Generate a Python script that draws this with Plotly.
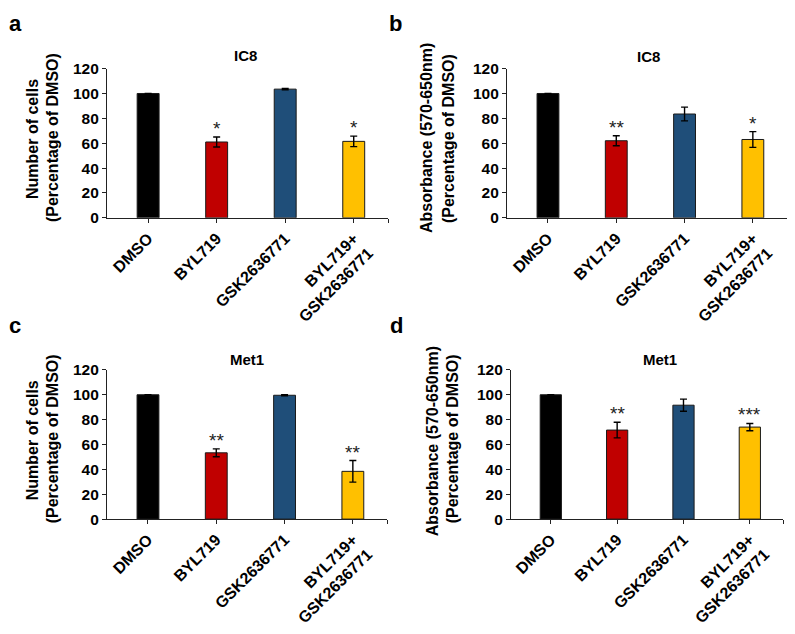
import plotly.graph_objects as go

# treatments on the x axis and their bar colours
treatments = ["DMSO", "BYL719", "GSK2636771", "BYL719+<br>GSK2636771"]
bar_colors = ["#000000", "#C00000", "#1F4E79", "#FFC000"]

# a: IC8 cell number
ic8_cells = [100, 61, 103.5, 61.5]
ic8_cells_err = [0, 4, 0.5, 4.2]
ic8_cells_sig = ["", "*", "", "*"]

# b: IC8 absorbance
ic8_abs = [100, 62, 83.5, 63]
ic8_abs_err = [0, 4, 5.5, 6.3]
ic8_abs_sig = ["", "**", "", "*"]

# c: Met1 cell number
met1_cells = [100, 53.3, 99.6, 38.4]
met1_cells_err = [0, 3.2, 0.5, 8.7]
met1_cells_sig = ["", "**", "", "**"]

# d: Met1 absorbance
met1_abs = [100, 71.6, 91.6, 74]
met1_abs_err = [0, 6.3, 4.9, 2.9]
met1_abs_sig = ["", "**", "", "***"]

# page body has an 8px margin, so the figure is drawn 16px smaller
PAD = 8
W, H = 795 - 2 * PAD, 634 - 2 * PAD
FONT = "Liberation Sans"

# one entry per panel: data, letter, title, y title lines, pixel boxes (window pixels)
# letter_xy gives the left edge of the panel letter
panels = [
    dict(vals=ic8_cells, err=ic8_cells_err, sig=ic8_cells_sig, letter="a", title="IC8",
         ytitle=["Number of cells", "(Percentage of DMSO)"],
         box=(107, 388, 63, 222), title_xy=(245, 49), letter_xy=(8, 15),
         ylab=[(32, 138), (52, 137)]),
    dict(vals=ic8_abs, err=ic8_abs_err, sig=ic8_abs_sig, letter="b", title="IC8",
         ytitle=["Absorbance (570-650nm)", "(Percentage of DMSO)"],
         box=(507, 787, 63, 222), title_xy=(648, 50), letter_xy=(388, 15),
         ylab=[(426, 137), (448, 137)]),
    dict(vals=met1_cells, err=met1_cells_err, sig=met1_cells_sig, letter="c", title="Met1",
         ytitle=["Number of cells", "(Percentage of DMSO)"],
         box=(107, 387, 384, 543), title_xy=(247, 373), letter_xy=(8, 337),
         ylab=[(32, 459), (52, 458)]),
    dict(vals=met1_abs, err=met1_abs_err, sig=met1_abs_sig, letter="d", title="Met1",
         ytitle=["Absorbance (570-650nm)", "(Percentage of DMSO)"],
         box=(511, 783, 384, 543), title_xy=(660, 373), letter_xy=(389, 337),
         ylab=[(432, 460), (452, 458)]),
]

def px_x(x):
    return (x - PAD) / W

def px_y(y):
    return 1 - (y - PAD) / H

fig = go.Figure()
annotations = []
layout = {}

for i, p in enumerate(panels):
    n = "" if i == 0 else str(i + 1)
    xa, ya = "x" + n, "y" + n
    x0, x1, y0, y1 = p["box"]

    fig.add_trace(go.Bar(
        x=[0, 1, 2, 3], y=p["vals"], width=0.32,
        marker=dict(color=bar_colors, line=dict(color="#1a1a1a", width=1)),
        error_y=dict(type="data", array=p["err"], visible=True,
                     color="black", thickness=1.4, width=3.5),
        xaxis=xa, yaxis=ya, showlegend=False,
    ))

    layout["xaxis" + n] = dict(
        domain=[px_x(x0), px_x(x1)], anchor=ya, range=[-0.6, 3.5],
        tickmode="array", tickvals=[0, 1, 2, 3, 3.5], ticktext=treatments + [""],
        tickangle=-45, ticks="outside", ticklen=4, tickcolor="#222",
        showline=True, linecolor="#222", linewidth=1.2, showgrid=False, zeroline=False,
        tickfont=dict(family=FONT, size=16, color="black", weight="bold"),
    )
    layout["yaxis" + n] = dict(
        domain=[px_y(y1), px_y(y0)], anchor=xa, range=[0, 120], dtick=20,
        ticks="outside", ticklen=4, tickcolor="#222",
        showline=True, linecolor="#222", linewidth=1.2, showgrid=False, zeroline=False,
        tickfont=dict(family=FONT, size=15.5, color="black", weight="bold"),
    )

    # significance stars above the error bars
    for k in range(4):
        if p["sig"][k]:
            annotations.append(dict(
                x=k, y=p["vals"][k] + p["err"][k], xref=xa, yref=ya,
                text=p["sig"][k], showarrow=False, yanchor="bottom", yshift=-4,
                font=dict(family=FONT, size=19, color="#222"),
            ))

    annotations.append(dict(
        x=px_x(p["title_xy"][0]), y=px_y(p["title_xy"][1]), xref="paper", yref="paper",
        text=p["title"], showarrow=False, xanchor="center", yanchor="middle",
        font=dict(family=FONT, size=15, color="black", weight="bold"),
    ))
    annotations.append(dict(
        x=px_x(p["letter_xy"][0]), y=px_y(p["letter_xy"][1]), xref="paper", yref="paper",
        text=p["letter"], showarrow=False, xanchor="left", yanchor="middle", borderpad=0,
        font=dict(family=FONT, size=22, color="black", weight="bold"),
    ))
    for line, (lx, ly) in zip(p["ytitle"], p["ylab"]):
        annotations.append(dict(
            x=px_x(lx), y=px_y(ly), xref="paper", yref="paper",
            text=line, showarrow=False, textangle=-90,
            xanchor="center", yanchor="middle",
            font=dict(family=FONT, size=16, color="black", weight="bold"),
        ))

fig.update_layout(
    width=W, height=H,
    margin=dict(l=0, r=0, t=0, b=0),
    paper_bgcolor="white", plot_bgcolor="white",
    annotations=annotations,
    **layout,
)

fig.write_html("out.html")
